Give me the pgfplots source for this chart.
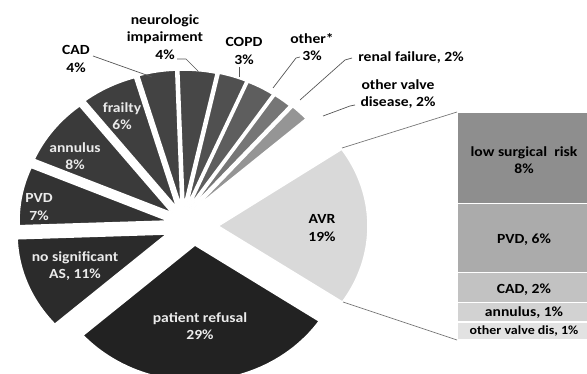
\documentclass[border=0pt]{standalone}
\usepackage{pgfplots}
\pgfplotsset{compat=1.18}
\usepackage{fontspec}
\setmainfont{Carlito}[FakeStretch=1.12]

\definecolor{cAVR}{HTML}{D9D9D9}
\definecolor{cOV}{HTML}{959595}
\definecolor{cRF}{HTML}{767676}
\definecolor{cOT}{HTML}{5E5E5E}
\definecolor{cCO}{HTML}{505050}
\definecolor{cNE}{HTML}{474747}
\definecolor{cCA}{HTML}{434343}
\definecolor{cFR}{HTML}{3F3F3F}
\definecolor{cAN}{HTML}{3A3A3A}
\definecolor{cPV}{HTML}{333333}
\definecolor{cNS}{HTML}{2B2B2B}
\definecolor{cPR}{HTML}{222222}
\definecolor{bLS}{HTML}{8E8E8E}
\definecolor{bPV}{HTML}{ABABAB}
\definecolor{bCA}{HTML}{C2C2C2}
\definecolor{bAN}{HTML}{D2D2D2}
\definecolor{bOV}{HTML}{E2E2E2}
\definecolor{lead}{HTML}{555555}

% pie: 3.6 deg per percent; running angle starts at -34 deg
\newcommand\cum{-34}
\newcommand\rx{150}
\newcommand\ry{136}
% #1 value (%), #2,#3 apex (px), #4 colour
\newcommand\slice[4]{%
  \pgfmathsetmacro\sa{\cum}%
  \pgfmathsetmacro\sb{\cum+#1*3.6}%
  \xdef\cum{\sb}%
  \edef\tmp{\noexpand\addplot[fill=#4,draw=white,line width=1.6pt,domain=\sa:\sb,samples=50,variable=\noexpand\t]
    ({#2+\rx*cos(\noexpand\t)},{#3-\ry*sin(\noexpand\t)}) -- (axis cs:#2,#3) -- cycle;}%
  \tmp}
% unassigned share (100 - sum of the labelled shares) left empty
\newcommand\gap[1]{\pgfmathsetmacro\sb{\cum+#1*3.6}\xdef\cum{\sb}}

\tikzset{lbl/.style={font=\bfseries\fontsize{14}{17.5}\selectfont,align=center,inner sep=0pt}}

\begin{document}
\begin{tikzpicture}
\useasboundingbox (0,0) rectangle (587bp,374bp);
% bar of pie
\begin{axis}[at={(457bp,34bp)},anchor=south west,width=132bp,height=228bp,
  scale only axis,hide axis,xmin=-0.5,xmax=0.5,ymin=0,ymax=19,
  ybar stacked,bar width=132bp,clip=false]
\addplot[fill=bOV,draw=white,line width=1.4pt] coordinates {(0,1.5)};
\addplot[fill=bAN,draw=white,line width=1.4pt] coordinates {(0,1.6)};
\addplot[fill=bCA,draw=white,line width=1.4pt] coordinates {(0,2.5)};
\addplot[fill=bPV,draw=white,line width=1.4pt] coordinates {(0,5.8)};
\addplot[fill=bLS,draw=white,line width=1.4pt] coordinates {(0,7.6)};
\end{axis}
% pie
\begin{axis}[at={(0,0)},anchor=south west,width=587bp,height=374bp,
  scale only axis,hide axis,xmin=0,xmax=587,ymin=0,ymax=374,y dir=reverse]
\slice{19}{218}{226}{cAVR}
\gap{2}
\slice{2}{194}{209}{cOV}
\slice{2}{191}{208}{cRF}
\slice{3}{189}{207}{cOT}
\slice{3}{187}{206}{cCO}
\slice{4}{184}{206}{cNE}
\slice{4}{181}{206}{cCA}
\slice{6}{177}{208}{cFR}
\slice{8}{172}{213}{cAN}
\slice{7}{169}{221}{cPV}
\slice{11}{167}{234}{cNS}
\slice{29}{195}{245}{cPR}
% connectors to the bar
\addplot[lead!80,line width=0.7pt] coordinates {(342,148) (457,112)};
\addplot[lead!80,line width=0.7pt] coordinates {(343,302) (457,340)};
% leader lines
\addplot[lead,line width=0.7pt] coordinates {(93,56) (152,77)};
\addplot[lead,line width=0.7pt] coordinates {(177,59) (186,59) (198,71)};
\addplot[lead,line width=0.7pt] coordinates {(239,67) (239,77)};
\addplot[lead,line width=0.7pt] coordinates {(300,57) (296,58) (273,88)};
\addplot[lead,line width=0.7pt] coordinates {(352,58) (345,60) (300,100)};
\addplot[lead,line width=0.7pt] coordinates {(355,105) (350,106) (323,116)};
% outside labels
\node[lbl] at (axis cs:76,59) {CAD\\4\%};
\node[lbl] at (axis cs:165,37) {neurologic\\impairment\\4\%};
\node[lbl] at (axis cs:244,51) {COPD\\3\%};
\node[lbl] at (axis cs:312,47) {other*\\3\%};
\node[lbl] at (axis cs:411,58) {renal failure, 2\%};
\node[lbl] at (axis cs:398,94) {other valve\\disease, 2\%};
% inside labels
\node[lbl,text=white!92!black] at (axis cs:122,116) {frailty\\6\%};
\node[lbl,text=white!92!black] at (axis cs:75,156) {annulus\\8\%};
\node[lbl,text=white!92!black] at (axis cs:39,207) {PVD\\7\%};
\node[lbl,text=white!92!black] at (axis cs:75,266) {no significant\\AS, 11\%};
\node[lbl,text=white!92!black] at (axis cs:200,326) {patient refusal\\29\%};
\node[lbl] at (axis cs:322,228) {AVR\\19\%};
% bar labels
\node[lbl] at (axis cs:524,160) {low surgical\ \ risk\\8\%};
\node[lbl] at (axis cs:524,240) {PVD, 6\%};
\node[lbl] at (axis cs:524,290) {CAD, 2\%};
\node[lbl] at (axis cs:524,313) {annulus, 1\%};
\node[lbl,font=\bfseries\fontsize{12.5}{14}\selectfont] at (axis cs:524,331) {other valve dis, 1\%};
\end{axis}
\end{tikzpicture}
\end{document}
